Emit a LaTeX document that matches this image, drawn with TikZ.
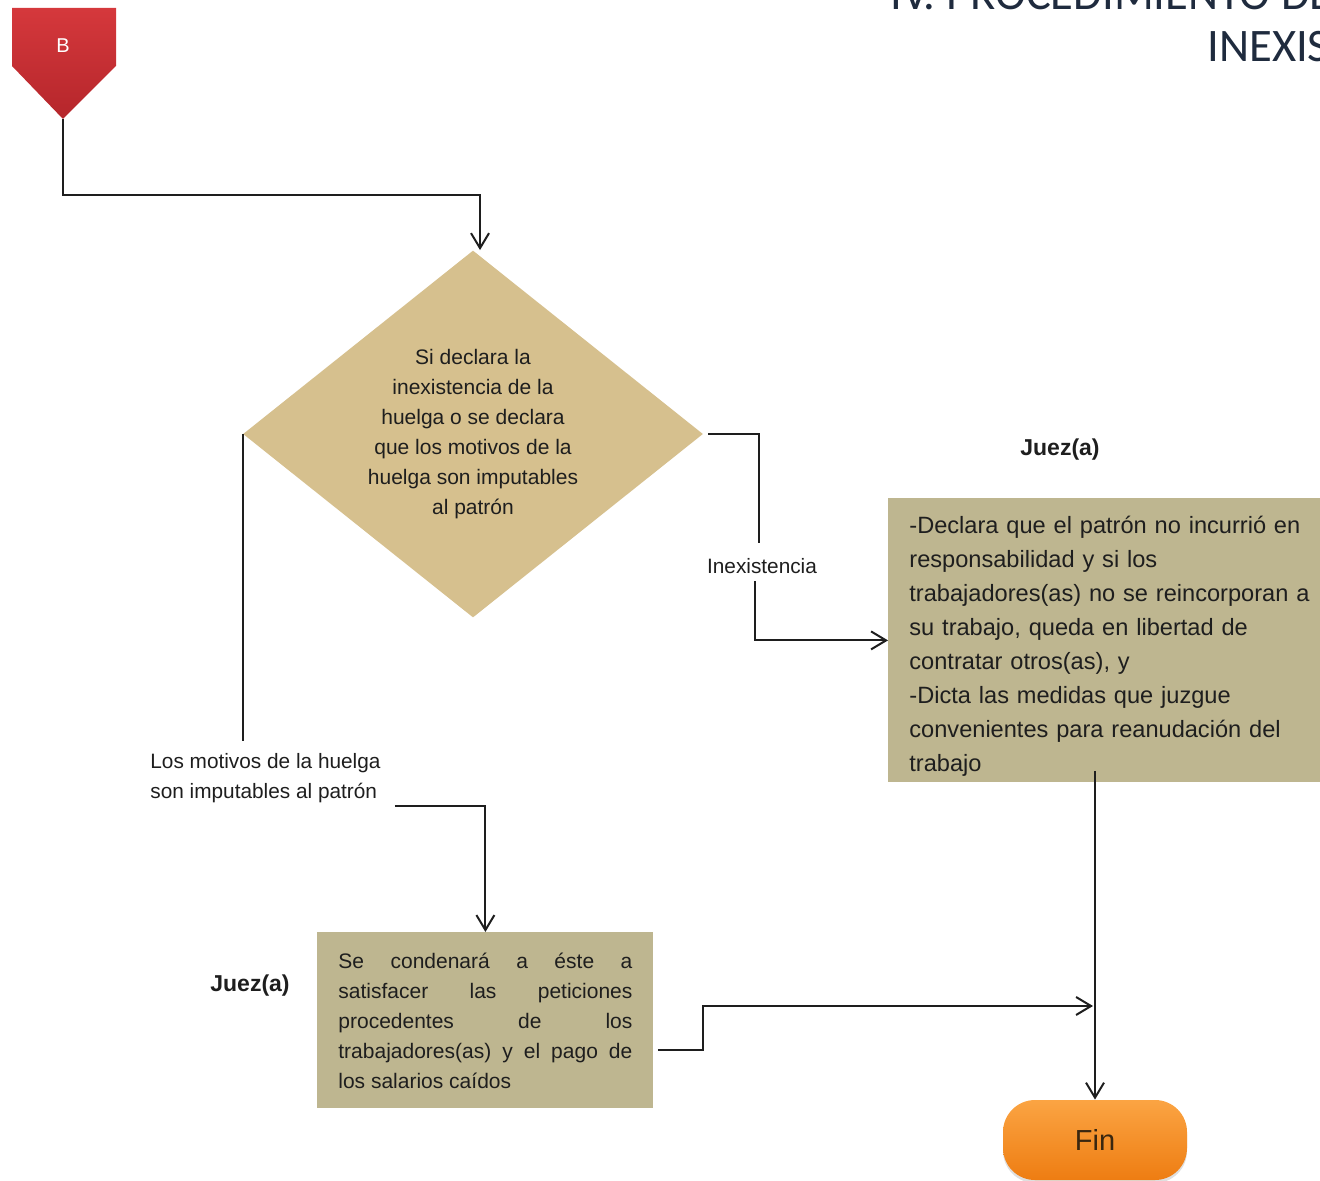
\documentclass[tikz,border=0pt]{standalone}
\usepackage{fontspec}
\setmainfont{Liberation Sans}
\newfontfamily\titlefont{Carlito}
\usetikzlibrary{shapes.geometric,arrows.meta,calc,shadows}

\definecolor{diamondfill}{HTML}{D6C08E}
\definecolor{boxfill}{HTML}{BEB690}
\definecolor{ink}{HTML}{1E1E1E}
\definecolor{titleink}{HTML}{1F2B3E}
\definecolor{redtop}{HTML}{D5383C}
\definecolor{redbot}{HTML}{B5262B}
\definecolor{orangetop}{HTML}{FBA443}
\definecolor{orangebot}{HTML}{EE7D12}
\definecolor{finink}{HTML}{3A2710}

\begin{document}
\begin{tikzpicture}[x=0.5pt,y=-0.5pt,
  line/.style={draw=ink, line width=1pt},
  arr/.style={line, -{Straight Barb[length=7.5pt,width=9pt]}},
  small/.style={font=\fontsize{10.4}{15}\selectfont, text=ink},
  actor/.style={font=\bfseries\fontsize{11.5}{14}\selectfont, text=ink},
  decision/.style={diamond, aspect=1.25, fill=diamondfill, minimum width=230pt,
    minimum height=183.5pt, inner sep=0pt, align=center,
    font=\fontsize{10.5}{15}\selectfont, text=ink},
  stepbox/.style={fill=boxfill, anchor=north west, inner xsep=10.5pt,
    inner ysep=0pt, text=ink},
  terminal/.style={rounded corners=16pt, minimum width=92pt, minimum height=40pt,
    top color=orangetop, bottom color=orangebot, text=finink,
    font=\fontsize{14.5}{16}\selectfont,
    drop shadow={shadow xshift=0pt, shadow yshift=-1.5pt, opacity=0.25}},
  heading/.style={anchor=base west, inner sep=0pt, text=titleink,
    font=\titlefont\fontsize{23.3}{28}\selectfont}
]
\path[use as bounding box, clip] (0,0) rectangle (1320,1181);

% heading, running off the page
\node[heading] (title1) at (890,10) {IV. PROCEDIMIENTO DE};
\node[heading] (title2) at (1207,62) {INEXIS};

% off-page connector B
\shade[top color=redtop, bottom color=redbot]
  (12,8) -- (116,8) -- (116,66) -- (63,119) -- (12,66) -- cycle;
\node[text=white, font=\fontsize{10}{12}\selectfont, inner sep=0pt] (B) at (63,46) {B};
\coordinate (btip) at (63,119);

% decision
\node[decision] (d) at (473,434)
  {Si declara la\\inexistencia de la\\huelga o se declara\\que los motivos de la\\huelga son imputables\\al patrón};

% branch labels
\node[small, inner sep=0pt] (inex) at (762,566) {Inexistencia};
\node[small, align=left, anchor=north west, inner sep=0pt] (motivos) at (150,753)
  {Los motivos de la huelga\\son imputables al patrón};

% right outcome
\node[actor] (jr) at (1060,450) {Juez(a)};
\node[stepbox, text width=210pt, minimum height=142pt, align=left,
      font=\fontsize{11.8}{17}\selectfont] (rbox) at (888,498)
  {\rule{0pt}{15pt}-Declara que el patrón no incurrió en\\
   responsabilidad y si los\\
   trabajadores(as) no se reincorporan a\\
   su trabajo, queda en libertad de\\
   contratar otros(as), y\\
   -Dicta las medidas que juzgue\\
   convenientes para reanudación del\\
   trabajo};

% left outcome
\node[actor] (jl) at (250,986) {Juez(a)};
\node[stepbox, text width=147pt, minimum height=88pt, align=justify,
      font=\fontsize{10.5}{15}\selectfont] (lbox) at (317,932)
  {Se\hfill condenará\hfill a\hfill éste\hfill a\\
   satisfacer\hfill las\hfill peticiones\\
   procedentes\hfill de\hfill los\\
   trabajadores(as)\hfill y\hfill el\hfill pago\hfill de\\
   los salarios caídos};

% end
\node[terminal] (fin) at (1095,1140) {Fin};
\coordinate (merge) at (1093,1006);

% connectors
\draw[arr] (btip) -- ++(0,76) -| ([xshift=3.5pt]d.north);
\draw[line] ([xshift=2.5pt]d.east) -| ([xshift=-1.5pt,yshift=7.5pt]inex.north);
\draw[arr] ([xshift=-3.5pt,yshift=-3.5pt]inex.south) |- (rbox.west);
\draw[line] (d.west) -- ([yshift=6pt]d.west |- motivos.north);
\draw[arr] ([xshift=7pt,yshift=-1.5pt]motivos.south east) -| (lbox.north);
\draw[arr] ([xshift=2pt,yshift=-15pt]lbox.east) -- ++(45,0) |- (merge);
\draw[arr] ([yshift=6pt]fin.north |- rbox.south) -- (fin.north);
\end{tikzpicture}
\end{document}
